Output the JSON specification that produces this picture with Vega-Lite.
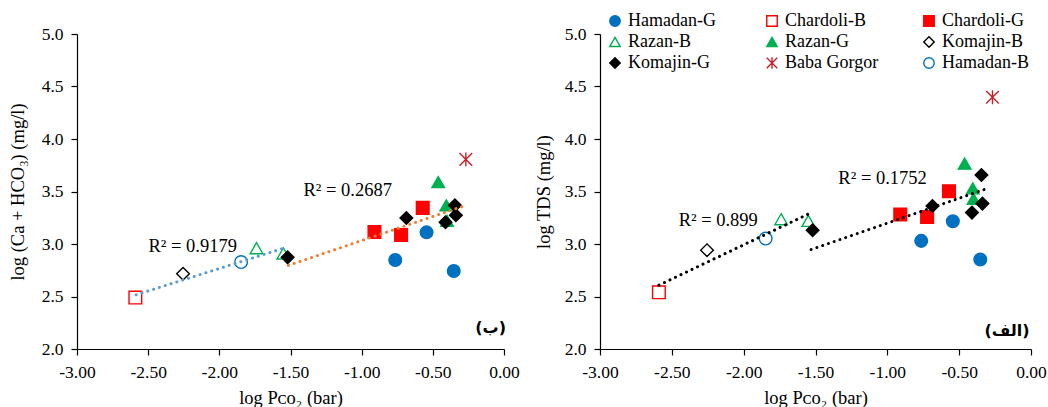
{
  "$schema": "https://vega.github.io/schema/vega-lite/v6.json",
  "padding": {"left": 8, "top": 12, "right": 0, "bottom": 0},
  "spacing": 14,
  "background": "white",
  "datasets": {
    "pts": [
      {"site": "Hamadan-G", "x": -0.764, "ca": 2.847, "tds": 3.03},
      {"site": "Hamadan-G", "x": -0.544, "ca": 3.111, "tds": 3.217},
      {"site": "Hamadan-G", "x": -0.353, "ca": 2.742, "tds": 2.852},
      {"site": "Chardoli-B", "x": -2.59, "ca": 2.49, "tds": 2.54},
      {"site": "Chardoli-G", "x": -0.91, "ca": 3.115, "tds": 3.28},
      {"site": "Chardoli-G", "x": -0.723, "ca": 3.086, "tds": 3.258},
      {"site": "Chardoli-G", "x": -0.571, "ca": 3.344, "tds": 3.502},
      {"site": "Razan-B", "x": -1.739, "ca": 2.96, "tds": 3.236},
      {"site": "Razan-B", "x": -1.55, "ca": 2.91, "tds": 3.22},
      {"site": "Razan-G", "x": -0.462, "ca": 3.589, "tds": 3.765},
      {"site": "Razan-G", "x": -0.405, "ca": 3.369, "tds": 3.53},
      {"site": "Razan-G", "x": -0.4, "ca": 3.22, "tds": 3.43},
      {"site": "Komajin-B", "x": -2.255, "ca": 2.717, "tds": 2.941},
      {"site": "Komajin-G", "x": -1.52, "ca": 2.873, "tds": 3.131},
      {"site": "Komajin-G", "x": -0.686, "ca": 3.248, "tds": 3.362},
      {"site": "Komajin-G", "x": -0.411, "ca": 3.207, "tds": 3.299},
      {"site": "Komajin-G", "x": -0.345, "ca": 3.369, "tds": 3.657},
      {"site": "Komajin-G", "x": -0.338, "ca": 3.274, "tds": 3.385},
      {"site": "Baba Gorgor", "x": -0.268, "ca": 3.806, "tds": 4.398},
      {"site": "Hamadan-B", "x": -1.847, "ca": 2.828, "tds": 3.052}
    ],
    "lineL1": [{"x": -2.585, "y": 2.516}, {"x": -1.543, "y": 2.962}],
    "lineL2": [{"x": -1.515, "y": 2.796}, {"x": -0.286, "y": 3.36}],
    "lineR": [
      {"seg": "a", "x": -2.59, "y": 2.608}, {"seg": "a", "x": -1.543, "y": 3.29},
      {"seg": "b", "x": -1.531, "y": 2.947}, {"seg": "b", "x": -0.295, "y": 3.533}
    ],
    "textL": [
      {"x": -2.187, "y": 2.977, "label": "R² = 0.9179"},
      {"x": -1.098, "y": 3.51, "label": "R² = 0.2687"}
    ],
    "textR": [
      {"x": -2.177, "y": 3.232, "label": "R² = 0.899"},
      {"x": -1.033, "y": 3.627, "label": "R² = 0.1752"}
    ],
    "tagL": [{"x": 0.014, "y": 2.2, "label": "(ب)"}],
    "tagR": [{"x": -0.01, "y": 2.17, "label": "(الف)"}]
  },
  "resolve": {
    "scale": {"shape": "independent", "fill": "independent", "stroke": "independent"},
    "legend": {"shape": "independent", "fill": "independent", "stroke": "independent"}
  },
  "hconcat": [
    {
      "width": 427,
      "height": 315,
      "layer": [
        {
          "data": {"name": "pts"},
          "mark": {"type": "point", "filled": true, "size": 160, "strokeWidth": 1.4, "opacity": 1},
          "encoding": {
            "x": {"field": "x", "type": "quantitative", "scale": {"domain": [-3, 0], "nice": false, "zero": false},
              "axis": {"title": "log Pᴄᴏ₂ (bar)", "values": [-3, -2.5, -2, -1.5, -1, -0.5, 0], "labelExpr": "replace(format(datum.value, '.2f'), '−', '-')"}},
            "y": {"field": "ca", "type": "quantitative", "scale": {"domain": [2, 5], "nice": false, "zero": false},
              "axis": {"title": "log (Ca + HCO₃) (mg/l)", "values": [2, 2.5, 3, 3.5, 4, 4.5, 5], "format": ".1f", "titlePadding": 14}},
            "shape": {"field": "site", "type": "nominal", "legend": null,
              "scale": {"domain": ["Hamadan-G", "Chardoli-B", "Chardoli-G", "Razan-B", "Razan-G", "Komajin-B", "Komajin-G", "Baba Gorgor", "Hamadan-B"],
                "range": ["circle", "square", "square", "triangle-up", "triangle-up", "diamond", "diamond", "M-1,-1L1,1M-1,1L1,-1M0,-1.1L0,1.1", "circle"]}},
            "fill": {"field": "site", "type": "nominal", "legend": null,
              "scale": {"domain": ["Hamadan-G", "Chardoli-B", "Chardoli-G", "Razan-B", "Razan-G", "Komajin-B", "Komajin-G", "Baba Gorgor", "Hamadan-B"],
                "range": ["#0070C0", "transparent", "#FF0000", "transparent", "#00B050", "transparent", "#000000", "transparent", "transparent"]}},
            "stroke": {"field": "site", "type": "nominal", "legend": null,
              "scale": {"domain": ["Hamadan-G", "Chardoli-B", "Chardoli-G", "Razan-B", "Razan-G", "Komajin-B", "Komajin-G", "Baba Gorgor", "Hamadan-B"],
                "range": ["#0070C0", "#FF0000", "#FF0000", "#00B050", "#00B050", "#000000", "#000000", "#C8202A", "#0070C0"]}}
          }
        },
        {
          "data": {"name": "lineL1"},
          "mark": {"type": "line", "color": "#5B9BD5", "strokeWidth": 3, "strokeCap": "round", "strokeDash": [0.1, 6]},
          "encoding": {"x": {"field": "x", "type": "quantitative"}, "y": {"field": "y", "type": "quantitative"}}
        },
        {
          "data": {"name": "lineL2"},
          "mark": {"type": "line", "color": "#ED7D31", "strokeWidth": 3, "strokeCap": "round", "strokeDash": [0.1, 6]},
          "encoding": {"x": {"field": "x", "type": "quantitative"}, "y": {"field": "y", "type": "quantitative"}}
        },
        {
          "data": {"name": "textL"},
          "mark": {"type": "text", "font": "Liberation Serif", "fontSize": 18.5, "color": "#000000", "align": "center", "baseline": "middle"},
          "encoding": {"x": {"field": "x", "type": "quantitative"}, "y": {"field": "y", "type": "quantitative"}, "text": {"field": "label"}}
        },
        {
          "data": {"name": "tagL"},
          "mark": {"type": "text", "font": "DejaVu Sans", "fontSize": 16, "fontWeight": "bold", "color": "#000000", "align": "right", "baseline": "middle"},
          "encoding": {"x": {"field": "x", "type": "quantitative"}, "y": {"field": "y", "type": "quantitative"}, "text": {"field": "label"}}
        }
      ]
    },
    {
      "width": 431,
      "height": 315,
      "layer": [
        {
          "data": {"name": "pts"},
          "mark": {"type": "point", "filled": true, "size": 160, "strokeWidth": 1.4, "opacity": 1},
          "encoding": {
            "x": {"field": "x", "type": "quantitative", "scale": {"domain": [-3, 0], "nice": false, "zero": false},
              "axis": {"title": "log Pᴄᴏ₂ (bar)", "values": [-3, -2.5, -2, -1.5, -1, -0.5, 0], "labelExpr": "replace(format(datum.value, '.2f'), '−', '-')"}},
            "y": {"field": "tds", "type": "quantitative", "scale": {"domain": [2, 5], "nice": false, "zero": false},
              "axis": {"title": "log TDS (mg/l)", "values": [2, 2.5, 3, 3.5, 4, 4.5, 5], "format": ".1f", "titlePadding": 11}},
            "shape": {"field": "site", "type": "nominal",
              "scale": {"domain": ["Hamadan-G", "Chardoli-B", "Chardoli-G", "Razan-B", "Razan-G", "Komajin-B", "Komajin-G", "Baba Gorgor", "Hamadan-B"],
                "range": ["circle", "square", "square", "triangle-up", "triangle-up", "diamond", "diamond", "M-1,-1L1,1M-1,1L1,-1M0,-1.1L0,1.1", "circle"]},
              "legend": {"title": null, "orient": "none", "legendX": 6, "legendY": -22, "direction": "horizontal", "columns": 3, "gridAlign": "all", "columnPadding": 41, "rowPadding": 3, "symbolSize": 110, "symbolStrokeWidth": 1.4, "labelFont": "Liberation Serif", "labelFontSize": 18, "labelColor": "#000000", "labelOffset": 4, "labelLimit": 200}},
            "fill": {"field": "site", "type": "nominal",
              "scale": {"domain": ["Hamadan-G", "Chardoli-B", "Chardoli-G", "Razan-B", "Razan-G", "Komajin-B", "Komajin-G", "Baba Gorgor", "Hamadan-B"],
                "range": ["#0070C0", "transparent", "#FF0000", "transparent", "#00B050", "transparent", "#000000", "transparent", "transparent"]}},
            "stroke": {"field": "site", "type": "nominal",
              "scale": {"domain": ["Hamadan-G", "Chardoli-B", "Chardoli-G", "Razan-B", "Razan-G", "Komajin-B", "Komajin-G", "Baba Gorgor", "Hamadan-B"],
                "range": ["#0070C0", "#FF0000", "#FF0000", "#00B050", "#00B050", "#000000", "#000000", "#C8202A", "#0070C0"]}}
          }
        },
        {
          "data": {"name": "lineR"},
          "mark": {"type": "line", "color": "#000000", "strokeWidth": 3, "strokeCap": "round", "strokeDash": [0.1, 6]},
          "encoding": {"x": {"field": "x", "type": "quantitative"}, "y": {"field": "y", "type": "quantitative"}, "detail": {"field": "seg"}}
        },
        {
          "data": {"name": "textR"},
          "mark": {"type": "text", "font": "Liberation Serif", "fontSize": 18.5, "color": "#000000", "align": "center", "baseline": "middle"},
          "encoding": {"x": {"field": "x", "type": "quantitative"}, "y": {"field": "y", "type": "quantitative"}, "text": {"field": "label"}}
        },
        {
          "data": {"name": "tagR"},
          "mark": {"type": "text", "font": "DejaVu Sans", "fontSize": 16, "fontWeight": "bold", "color": "#000000", "align": "right", "baseline": "middle"},
          "encoding": {"x": {"field": "x", "type": "quantitative"}, "y": {"field": "y", "type": "quantitative"}, "text": {"field": "label"}}
        }
      ]
    }
  ],
  "config": {
    "view": {"stroke": null},
    "axis": {
      "grid": false,
      "domainColor": "#000000",
      "domainWidth": 1.2,
      "tickColor": "#000000",
      "tickWidth": 1.2,
      "tickSize": 6,
      "labelFont": "Liberation Serif",
      "labelFontSize": 17.5,
      "labelColor": "#000000",
      "labelPadding": 8,
      "titleFont": "Liberation Serif",
      "titleFontSize": 18.5,
      "titleFontWeight": "normal",
      "titleColor": "#000000"
    },
    "axisX": {"titlePadding": 8, "labelFlush": false},
    "axisY": {"labelFlush": false}
  }
}
